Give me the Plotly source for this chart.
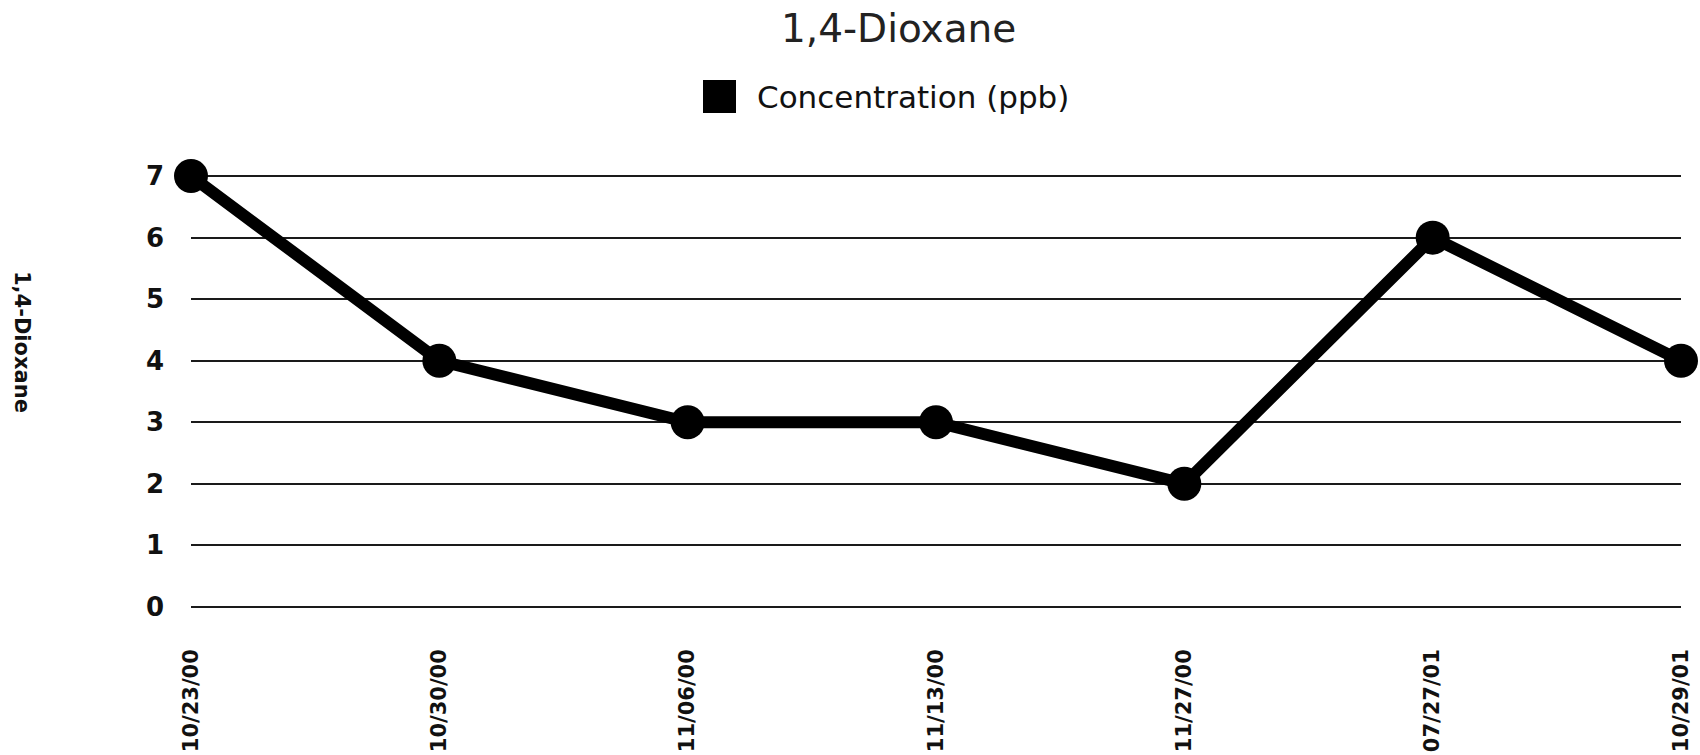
import plotly.graph_objects as go

# Sampling dates and measured 1,4-Dioxane concentrations (ppb)
dates = ["10/23/00", "10/30/00", "11/06/00", "11/13/00", "11/27/00", "07/27/01", "10/29/01"]
concentration = [7, 4, 3, 3, 2, 6, 4]
y_ticks = [0, 1, 2, 3, 4, 5, 6, 7]

title_text = "1,4-Dioxane"
series_name = "Concentration (ppb)"
y_title = "1,4-Dioxane"

FONT = "DejaVu Sans"
INK = "#111111"

# Pixel frame of the plotting area (paper area)
PL, PR, PT, PB = 191, 1681, 173, 610
PW, PH = PR - PL, PB - PT
PAD = 0.05  # small value padding so the 0 and 7 gridlines are kept


def px(x):
    return (x - PL) / PW


def py(y):
    return (PB - y) / PH


fig = go.Figure()
fig.add_trace(go.Scatter(
    x=dates,
    y=concentration,
    mode="lines+markers",
    name=series_name,
    line=dict(color="black", width=12),
    marker=dict(color="black", size=34),
    cliponaxis=False,
    showlegend=False,
))

fig.update_layout(
    width=1700,
    height=755,
    margin=dict(l=PL, r=1700 - PR, t=PT, b=755 - PB),
    paper_bgcolor="white",
    plot_bgcolor="white",
    showlegend=False,
    font=dict(family=FONT, color=INK),
    xaxis=dict(
        type="category",
        range=[0, len(dates) - 1],
        automargin=False,
        showgrid=False,
        zeroline=False,
        showline=False,
        tickangle=-90,
        ticklabelstandoff=34,
        tickfont=dict(family=FONT, size=21, color=INK, weight="bold"),
    ),
    yaxis=dict(
        range=[-PAD, 7 + PAD],
        tickvals=y_ticks,
        automargin=False,
        showgrid=True,
        gridcolor="#1a1a1a",
        gridwidth=1.5,
        zeroline=False,
        showline=False,
        ticklabelstandoff=26,
        tickfont=dict(family=FONT, size=26, color=INK, weight="bold"),
    ),
    annotations=[
        dict(text=title_text, xref="paper", yref="paper",
             x=px(898), y=py(29), xanchor="center", yanchor="middle",
             showarrow=False, font=dict(family=FONT, size=39, color="#222222")),
        dict(text=series_name, xref="paper", yref="paper",
             x=px(755), y=py(97), xanchor="left", yanchor="middle",
             showarrow=False, font=dict(family=FONT, size=31, color=INK)),
        dict(text=y_title, xref="paper", yref="paper",
             x=px(22), y=py(342), xanchor="center", yanchor="middle",
             textangle=90, showarrow=False, font=dict(family=FONT, size=21, color=INK, weight="bold")),
    ],
    shapes=[
        dict(type="rect", xref="paper", yref="paper",
             x0=px(703), x1=px(736), y0=py(113), y1=py(80),
             fillcolor="black", line=dict(width=0)),
    ],
)

fig.write_html("out.html")
